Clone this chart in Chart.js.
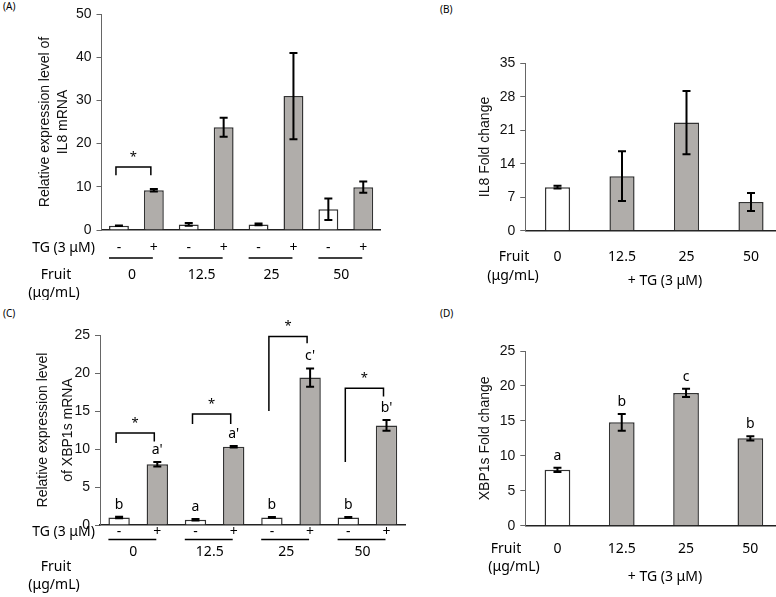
<!DOCTYPE html>
<html>
<head>
<meta charset="utf-8">
<script src="https://cdn.jsdelivr.net/npm/chart.js@4"></script>
<style>
html, body { margin: 0; padding: 0; background: #fff; overflow: hidden; width: 776px; height: 597px; position: relative; }
canvas { position: absolute; }
.tag { position: absolute; font: 10px "Noto Sans", sans-serif; color: #000; }
</style>
</head>
<body>
<div class="tag" style="left:3px;top:-1px">(A)</div>
<div class="tag" style="left:440px;top:2px">(B)</div>
<div class="tag" style="left:3px;top:306px">(C)</div>
<div class="tag" style="left:440px;top:306px">(D)</div>
<canvas id="cA" width="400" height="300" style="left:0;top:0"></canvas>
<canvas id="cB" width="400" height="300" style="left:400px;top:0"></canvas>
<canvas id="cC" width="420" height="297" style="left:0;top:300px"></canvas>
<canvas id="cD" width="400" height="297" style="left:400px;top:300px"></canvas>
<script>
// doses and TG treatment
const fruitDoses = ['0', '12.5', '25', '50'];
const tgSigns = ['-', '+', '-', '+', '-', '+', '-', '+'];

// (A) IL8 relative expression
const il8Rel = [1.0, 9.2, 1.3, 23.8, 1.3, 31.0, 4.8, 9.9];
const il8RelErr = [0.05, 0.3, 0.3, 2.2, 0.2, 10.0, 2.5, 1.3];
const il8Ticks = { max: 50, step: 10 };

// (B) IL8 fold change (+TG)
const il8Fold = [9.1, 11.4, 22.6, 6.0];
const il8FoldErr = [0.3, 5.2, 6.6, 1.9];
const il8FoldTicks = { max: 35, step: 7 };

// (C) XBP1s relative expression
const xbpRel = [1.0, 8.0, 0.7, 10.3, 1.0, 19.4, 1.0, 13.1];
const xbpRelErr = [0.1, 0.3, 0.1, 0.1, 0.05, 1.2, 0.05, 0.7];
const xbpRelLetters = ['b', "a'", 'a', "a'", 'b', "c'", 'b', "b'"];
const xbpTicks = { max: 25, step: 5 };

// (D) XBP1s fold change (+TG)
const xbpFold = [8.0, 14.8, 19.0, 12.5];
const xbpFoldErr = [0.3, 1.2, 0.6, 0.3];
const xbpFoldLetters = ['a', 'b', 'c', 'b'];

// significance brackets: bar index pair, bracket top, left/right leg ends (axis units)
const bracketsA = [{ a: 0, b: 1, top: 14.6, la: 12.7, lb: 12.7 }];
const bracketsC = [
    { a: 0, b: 1, top: 12.1, la: 10.8, lb: 11.0 },
    { a: 2, b: 3, top: 14.6, la: 13.3, lb: 13.3 },
    { a: 4, b: 5, top: 24.8, la: 15.0, lb: 23.9 },
    { a: 6, b: 7, top: 18.0, la: 8.3, lb: 16.9 }
];

const GRAY = '#b0adaa';
const AX = '"Liberation Sans", Arial, sans-serif';
const TX = '"Noto Sans", sans-serif';

const annot = {
    id: 'annot',
    afterDatasetsDraw(chart, args, o) {
        const ctx = chart.ctx;
        const ys = chart.scales.y;
        const bars = chart.getDatasetMeta(0).data;
        const vals = chart.data.datasets[0].data;
        const xs = bars.map(b => b.x);
        const half = bars[0].width / 2;
        const bottom = chart.chartArea.bottom;
        ctx.save();
        // error bars
        ctx.strokeStyle = '#000';
        ctx.lineWidth = 2;
        o.err.forEach((e, i) => {
            const t = ys.getPixelForValue(vals[i] + e);
            const b = ys.getPixelForValue(vals[i] - e);
            ctx.beginPath();
            ctx.moveTo(xs[i], t); ctx.lineTo(xs[i], b);
            ctx.moveTo(xs[i] - 4, t); ctx.lineTo(xs[i] + 4, t);
            ctx.moveTo(xs[i] - 4, b); ctx.lineTo(xs[i] + 4, b);
            ctx.stroke();
        });
        ctx.fillStyle = '#000';
        ctx.textBaseline = 'middle';
        ctx.textAlign = 'center';
        // letters above bars
        if (o.letters) {
            ctx.font = '14px ' + TX;
            o.letters.forEach((l, i) => {
                ctx.fillText(l, xs[i], ys.getPixelForValue(vals[i] + o.err[i]) - 12);
            });
        }
        // brackets with asterisks
        if (o.brackets) {
            ctx.lineWidth = 1.5;
            ctx.font = '13px ' + TX;
            o.brackets.forEach(br => {
                const x1 = xs[br.a] - 3, x2 = xs[br.b] - 3;
                const yt = ys.getPixelForValue(br.top);
                ctx.beginPath();
                ctx.moveTo(x1, ys.getPixelForValue(br.la));
                ctx.lineTo(x1, yt);
                ctx.lineTo(x2, yt);
                ctx.lineTo(x2, ys.getPixelForValue(br.lb));
                ctx.stroke();
                ctx.fillText('*', (x1 + x2) / 2, yt - 10);
            });
        }
        ctx.font = '14px ' + TX;
        // TG sign row with dose groups
        if (o.signs) {
            o.signs.forEach((s, i) => ctx.fillText(s, xs[i], bottom + o.signY));
            ctx.textAlign = 'right';
            ctx.fillText('TG (3 μM)', 95, bottom + o.signY);
            ctx.textAlign = 'center';
            ctx.lineWidth = 1.5;
            o.groups.forEach((g, k) => {
                const l = xs[2 * k] - half, r = xs[2 * k + 1] - 1;
                ctx.beginPath();
                ctx.moveTo(l, bottom + o.lineY);
                ctx.lineTo(r, bottom + o.lineY);
                ctx.stroke();
                ctx.fillText(g, (l + r) / 2 + 1, bottom + o.groupY);
            });
        } else {
            o.groups.forEach((g, i) => ctx.fillText(g, xs[i], bottom + o.groupY));
            ctx.fillText('+ TG (3 μM)', 265, bottom + o.tgY);
        }
        ctx.fillText('Fruit', o.fruitX, bottom + o.fruitY);
        ctx.fillText('(μg/mL)', o.unitX, bottom + o.unitY);
        ctx.restore();
    }
};

function makeChart(id, vals, colors, barPct, ticks, title, lh, tpad, yWidth, pad, ann) {
    return new Chart(document.getElementById(id), {
        type: 'bar',
        data: {
            labels: vals.map((v, i) => 'c' + i),
            datasets: [{
                data: vals,
                backgroundColor: colors,
                borderColor: '#333',
                borderWidth: 1.5,
                borderSkipped: 'bottom',
                categoryPercentage: 1,
                barPercentage: barPct
            }]
        },
        options: {
            responsive: false,
            animation: false,
            events: [],
            layout: { padding: pad },
            plugins: { legend: { display: false }, tooltip: { enabled: false }, annot: ann },
            scales: {
                x: {
                    grid: { display: false },
                    ticks: { display: false },
                    border: { color: '#222', width: 1.5 },
                    afterFit: s => { s.height = 0; }
                },
                y: {
                    min: 0,
                    max: ticks.max,
                    ticks: { stepSize: ticks.step, color: '#111', padding: 5, font: { family: AX, size: 14 } },
                    grid: { drawOnChartArea: false, tickLength: 5, color: '#666', lineWidth: 1 },
                    border: { color: '#666', width: 1 },
                    title: {
                        display: true,
                        text: title,
                        color: '#111',
                        font: { family: AX, size: 14, lineHeight: lh },
                        padding: { top: tpad, bottom: 0 }
                    },
                    afterFit: s => { s.width = yWidth; }
                }
            }
        },
        plugins: [annot]
    });
}

const pairColors = tgSigns.map(s => s === '+' ? GRAY : '#fff');
const fourColors = ['#fff', GRAY, GRAY, GRAY];

makeChart('cA', il8Rel, pairColors, 0.57, il8Ticks,
    ['Relative expression level of', 'IL8 mRNA'], 1.3, 36, 101.5,
    { left: 0, right: 19.3, top: 14, bottom: 70 },
    { err: il8RelErr, brackets: bracketsA, signs: tgSigns, groups: fruitDoses,
      signY: 18, lineY: 28, groupY: 45, fruitX: 56, fruitY: 45, unitX: 54, unitY: 63 });

makeChart('cB', il8Fold, fourColors, 0.39, il8FoldTicks,
    'IL8 Fold change', 1.4, 75, 125.25,
    { left: 0, right: 16.75, top: 63.3, bottom: 69.3 },
    { err: il8FoldErr, groups: fruitDoses, groupY: 26, tgY: 50,
      fruitX: 114, fruitY: 26, unitX: 113, unitY: 45 });

makeChart('cC', xbpRel, pairColors, 0.56, xbpTicks,
    ['Relative expression level', 'of XBP1s mRNA'], 1.79, 30.5, 100,
    { left: 0, right: 14.4, top: 35, bottom: 72 },
    { err: xbpRelErr, letters: xbpRelLetters, brackets: bracketsC, signs: tgSigns, groups: fruitDoses,
      signY: 7, lineY: 14.5, groupY: 27, fruitX: 56, fruitY: 42, unitX: 54, unitY: 60 });

makeChart('cD', xbpFold, fourColors, 0.40, xbpTicks,
    'XBP1s Fold change', 1.4, 75, 125.3,
    { left: 0, right: 17.5, top: 51, bottom: 71.3 },
    { err: xbpFoldErr, letters: xbpFoldLetters, groups: fruitDoses, groupY: 23, tgY: 51,
      fruitX: 106, fruitY: 23, unitX: 114, unitY: 41 });
</script>
</body>
</html>
